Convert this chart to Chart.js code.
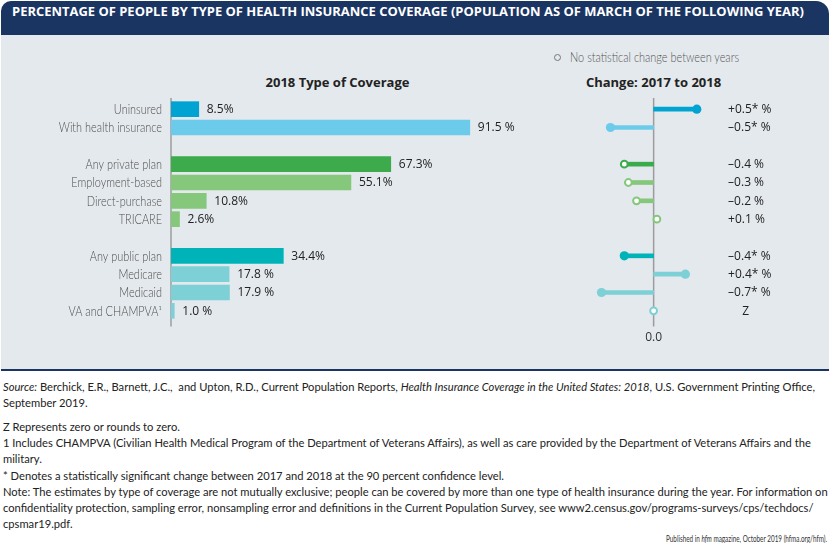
<!DOCTYPE html>
<html>
<head>
<meta charset="utf-8">
<script src="https://cdn.jsdelivr.net/npm/chart.js@4.4.1/dist/chart.umd.min.js"></script>
<style>
html,body{margin:0;padding:0;background:#fff;}
body{width:829px;height:543px;position:relative;overflow:hidden;font-family:'Lato',sans-serif;color:#222;}
#header{position:absolute;left:1px;top:1px;width:828px;height:34px;background:#1b3563;border-radius:10px 13px 0 0;}
#title{position:absolute;left:12px;top:12px;line-height:18px;margin-top:-9px;white-space:nowrap;color:#fff;font-family:'Open Sans';font-weight:700;font-size:12.5px;transform-origin:0 50%;}
#panel{position:absolute;left:1px;top:35px;width:828px;height:334px;background:#e4e9ed;border-bottom:2px solid #1b3563;}
.ctitle{position:absolute;white-space:nowrap;font-family:'Open Sans';font-weight:700;font-size:13px;color:#222;line-height:18px;transform:translate(-50%,-50%);}
#legend{position:absolute;left:570px;top:49px;white-space:nowrap;font-family:'Lato';font-weight:300;font-size:13px;color:#555;line-height:16px;transform-origin:0 50%;transform:scaleX(0.84);}
#legdot{position:absolute;left:554px;top:54px;width:5px;height:5px;border:1.5px solid #777;border-radius:50%;}
canvas{position:absolute;}
.fl{position:absolute;left:3px;white-space:nowrap;font-family:'Lato',sans-serif;font-size:12px;line-height:16px;color:#222;transform-origin:0 50%;}
#pub{position:absolute;left:666px;top:531.5px;white-space:nowrap;font-family:'Lato',sans-serif;font-size:10px;line-height:12px;color:#333;transform-origin:0 50%;}
</style>
</head>
<body>
<div id="header"></div>
<div id="panel"></div>
<div id="title">PERCENTAGE OF PEOPLE BY TYPE OF HEALTH INSURANCE COVERAGE (POPULATION AS OF MARCH OF THE FOLLOWING YEAR)</div>
<div id="legdot"></div>
<div id="legend">No statistical change between years</div>
<div class="ctitle" style="left:337.5px;top:81.5px;">2018 Type of Coverage</div>
<div class="ctitle" style="left:653.5px;top:81.5px;">Change: 2017 to 2018</div>
<canvas id="left" style="left:0;top:90px;" width="540" height="260"></canvas>
<canvas id="right" style="left:540px;top:90px;" width="289" height="260"></canvas>
<div class="fl" id="src" style="top:378.5px;"><i>Source:</i> Berchick, E.R., Barnett, J.C.,&nbsp; and Upton, R.D., Current Population Reports, <i>Health Insurance Coverage in the United States: 2018</i>, U.S. Government Printing Office,</div>
<div class="fl" style="top:394.5px;">September 2019.</div>
<div class="fl" style="top:419px;">Z Represents zero or rounds to zero.</div>
<div class="fl" style="top:435px;">1 Includes CHAMPVA (Civilian Health Medical Program of the Department of Veterans Affairs), as well as care provided by the Department of Veterans Affairs and the</div>
<div class="fl" style="top:451px;">military.</div>
<div class="fl" style="top:467.5px;">* Denotes a statistically significant change between 2017 and 2018 at the 90 percent confidence level.</div>
<div class="fl" style="top:483.5px;">Note: The estimates by type of coverage are not mutually exclusive; people can be covered by more than one type of health insurance during the year. For information on</div>
<div class="fl" style="top:499.5px;">confidentiality protection, sampling error, nonsampling error and definitions in the Current Population Survey, see www2.census.gov/programs-surveys/cps/techdocs/</div>
<div class="fl" style="top:515.5px;">cpsmar19.pdf.</div>
<div id="pub">Published in <i>hfm</i> magazine, October 2019 (hfma.org/hfm).</div>
<script>
// ---- data ----
const categories = ['Uninsured','With health insurance','Any private plan','Employment-based','Direct-purchase','TRICARE','Any public plan','Medicare','Medicaid','VA and CHAMPVA\u00B9'];
const coverage2018 = [8.5, 91.5, 67.3, 55.1, 10.8, 2.6, 34.4, 17.8, 17.9, 1.0];
const coverageLabels = ['8.5%','91.5 %','67.3%','55.1%','10.8%','2.6%','34.4%','17.8 %','17.9 %','1.0 %'];
const change = [0.53, -0.53, -0.36, -0.31, -0.21, 0.04, -0.36, 0.39, -0.64, 0];
const changeLabels = ['+0.5* %','\u20130.5* %','\u20130.4 %','\u20130.3 %','\u20130.2 %','+0.1 %','\u20130.4* %','+0.4* %','\u20130.7* %','Z'];
const significant = [true, true, false, false, false, false, true, true, true, false];
const groupStarts = [2, 6]; // a blank row precedes these categories
const zeroTick = ['0.0'];

// ---- styles ----
const rowColors = ['#00a3d1','#6ccbea','#3dab4b','#85c77b','#85c77b','#85c77b','#00b3b9','#7dd0d6','#7dd0d6','#7dd0d6'];

function withSpacers(arr, blank) {
  const out = [];
  arr.forEach((v, i) => { if (groupStarts.includes(i)) out.push(blank); out.push(v); });
  return out;
}
const rowLabels = withSpacers(categories, '');
const rowValues = withSpacers(coverage2018, null);
const rowValueLabels = withSpacers(coverageLabels, '');
const rowChange = withSpacers(change, null);
const rowChangeLabels = withSpacers(changeLabels, '');
const rowSig = withSpacers(significant, null);
const rowCol = withSpacers(rowColors, 'rgba(0,0,0,0)');

const zeroLine = (n) => ({
  id: 'zeroLine' + n,
  beforeDatasetsDraw(chart) {
    const {ctx, chartArea, scales} = chart;
    const x = scales.x.getPixelForValue(0);
    ctx.save();
    ctx.strokeStyle = '#9c9c9c';
    ctx.lineWidth = 1.5;
    ctx.beginPath();
    ctx.moveTo(x, chartArea.top - 2);
    ctx.lineTo(x, chartArea.bottom + 6.5);
    ctx.stroke();
    ctx.restore();
  }
});

// ---- left chart ----
const leftText = {
  id: 'leftText',
  afterDatasetsDraw(chart) {
    const {ctx, scales} = chart;
    const meta = chart.getDatasetMeta(0);
    ctx.save();
    ctx.textBaseline = 'middle';
    // category labels (condensed light)
    ctx.font = '300 13px Lato';
    ctx.fillStyle = '#4d4d4d';
    ctx.textAlign = 'right';
    rowLabels.forEach((t, i) => {
      if (!t) return;
      const y = scales.y.getPixelForValue(i);
      ctx.save();
      ctx.translate(scales.x.left - 9, y + 0.5);
      ctx.scale(0.84, 1);
      ctx.fillText(t, 0, 0);
      ctx.restore();
    });
    // value labels
    ctx.font = '400 12px "Open Sans"';
    ctx.fillStyle = '#222';
    ctx.textAlign = 'left';
    meta.data.forEach((el, i) => {
      const t = rowValueLabels[i];
      if (!t) return;
      ctx.fillText(t, el.x + 8, el.y + 0.5);
    });
    ctx.restore();
  }
};

new Chart(document.getElementById('left'), {
  type: 'bar',
  data: {
    labels: rowLabels,
    datasets: [{
      data: rowValues,
      backgroundColor: rowCol,
      barThickness: 15,
      borderWidth: 0
    }]
  },
  options: {
    indexAxis: 'y',
    responsive: false,
    animation: false,
    events: [],
    layout: {padding: {top: 10, bottom: 30, left: 0, right: 0}},
    plugins: {legend: {display: false}, tooltip: {enabled: false}},
    scales: {
      x: {display: false, min: 0, max: 113},
      y: {
        grid: {display: false, drawTicks: false},
        border: {display: false},
        ticks: {display: false},
        afterFit(s) { s.width = 171; s.paddingTop = 0; s.paddingBottom = 0; }
      }
    }
  },
  plugins: [zeroLine(0), leftText]
});

// ---- right chart ----
const rightLabels = {
  id: 'rightLabels',
  afterDatasetsDraw(chart) {
    const {ctx, chartArea, scales} = chart;
    const x0 = scales.x.getPixelForValue(0);
    ctx.save();
    ctx.font = '400 12px "Open Sans"';
    ctx.fillStyle = '#222';
    ctx.textBaseline = 'middle';
    rowChangeLabels.forEach((t, i) => {
      if (!t) return;
      const y = scales.y.getPixelForValue(i);
      if (t === 'Z') { ctx.textAlign = 'center'; ctx.fillText(t, x0 + 92, y + 0.5); }
      else { ctx.textAlign = 'left'; ctx.fillText(t, x0 + 74.5, y + 0.5); }
    });
    ctx.textAlign = 'center';
    ctx.fillStyle = '#333';
    ctx.fillText(zeroTick[0], x0, chartArea.bottom + 18);
    ctx.restore();
  }
};

new Chart(document.getElementById('right'), {
  type: 'bar',
  data: {
    labels: rowLabels,
    datasets: [{
      type: 'line',
      indexAxis: 'y',
      data: rowChange,
      showLine: false,
      pointRadius: rowSig.map(s => s ? 4.6 : 3.4),
      pointBorderWidth: rowSig.map(s => s ? 0 : 2),
      pointBackgroundColor: rowSig.map((s, i) => s ? rowCol[i] : '#ffffff'),
      pointBorderColor: rowCol,
      order: 0
    }, {
      data: rowChange,
      backgroundColor: rowCol,
      barThickness: 4,
      borderWidth: 0,
      order: 1
    }]
  },
  options: {
    indexAxis: 'y',
    responsive: false,
    animation: false,
    events: [],
    layout: {padding: {top: 10, bottom: 30, left: 0, right: 0}},
    plugins: {legend: {display: false}, tooltip: {enabled: false}},
    scales: {
      x: {display: false, min: -1.321, max: 2.079},
      y: {display: false}
    }
  },
  plugins: [zeroLine(1), rightLabels]
});

// ---- fit text widths to reference (horizontal condensing) ----
function widthOf(el) {
  el.style.display = 'inline-block';
  return el.getBoundingClientRect().width;
}
const title = document.getElementById('title');
title.style.transform = 'scaleX(' + (792 / widthOf(title)) + ')';
const kf = 812 / widthOf(document.getElementById('src'));
document.querySelectorAll('.fl').forEach(e => e.style.transform = 'scaleX(' + kf + ')');
const pub = document.getElementById('pub');
pub.style.transform = 'scaleX(' + (161 / widthOf(pub)) + ')';
</script>
</body>
</html>
